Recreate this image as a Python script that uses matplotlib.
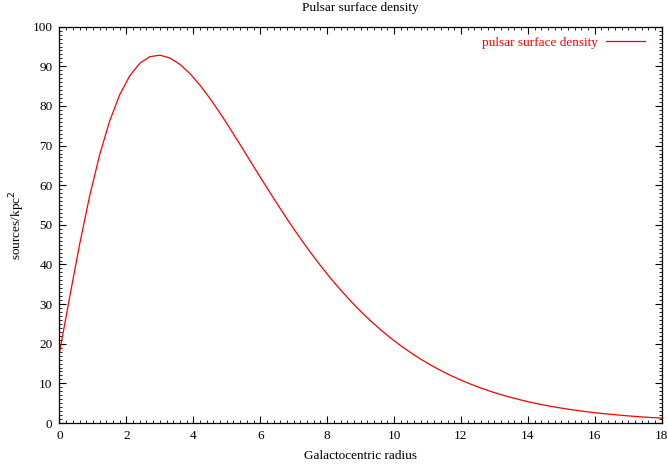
import numpy as np
import matplotlib
matplotlib.use("Agg")
from matplotlib import pyplot as plt
from matplotlib.ticker import MultipleLocator

# galactocentric radius (kpc), sampled every 0.3
radius = np.round(np.arange(0, 18.01, 0.3), 2)

# pulsar surface density (sources/kpc^2) read at each radius
density = [17.80, 31.58, 45.04, 57.24, 67.68, 76.22, 82.84, 87.64, 90.78, 92.44,
           92.82, 92.10, 90.50, 88.16, 85.23, 81.87, 78.18, 74.27, 70.24, 66.14,
           62.06, 58.03, 54.08, 50.25, 46.58, 43.06, 39.72, 36.56, 33.60, 30.81,
           28.20, 25.78, 23.52, 21.43, 19.51, 17.73, 16.09, 14.59, 13.22, 11.96,
           10.81, 9.76, 8.81, 7.94, 7.15, 6.44, 5.79, 5.20, 4.67, 4.19,
           3.76, 3.37, 3.02, 2.70, 2.42, 2.17, 1.94, 1.73, 1.54, 1.38,
           1.23]

plt.rcParams['font.family'] = ['Liberation Serif', 'DejaVu Serif']
plt.rcParams['font.size'] = 9.5

fig = plt.figure(figsize=(6.67, 4.67), dpi=100)
ax = fig.add_axes([0.0892, 0.0942, 0.9028, 0.8486])

ax.plot(radius, density, color='red', lw=0.9, label='pulsar surface density')

ax.set_xlim(0, 18)
ax.set_ylim(0, 100)
ax.xaxis.set_major_locator(MultipleLocator(2))
ax.xaxis.set_minor_locator(MultipleLocator(0.2))
ax.yaxis.set_major_locator(MultipleLocator(10))
ax.yaxis.set_minor_locator(MultipleLocator(1))
ax.tick_params(which='both', direction='in', top=True, right=True, color='black')
ax.tick_params(which='major', length=5, width=0.8, pad=5)
ax.tick_params(which='minor', length=2.5, width=0.6)
for s in ax.spines.values():
    s.set_linewidth(0.9)

ax.set_title('Pulsar surface density', fontsize=9.5, pad=11)
ax.set_xlabel('Galactocentric radius', fontsize=9.5, labelpad=6)
ax.set_ylabel('sources/kpc$^2$', fontsize=9.5, labelpad=4)

# gnuplot-style key: text first, then the line sample
leg = ax.legend(loc='upper right', bbox_to_anchor=(1, 1.0177), frameon=False,
                markerfirst=False, handlelength=2.9, handletextpad=0.6,
                fontsize=9.5, borderaxespad=0.9)
for t in leg.get_texts():
    t.set_color('red')

fig.savefig('out.png', dpi=100)
